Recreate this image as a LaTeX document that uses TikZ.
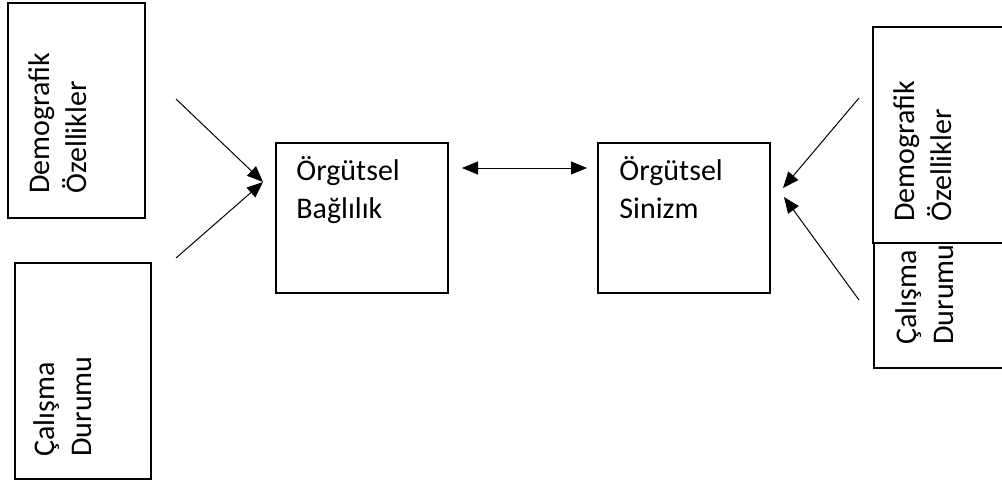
\documentclass[tikz,border=0pt]{standalone}
\usepackage{fontspec}
\setmainfont{Carlito}
\usetikzlibrary{arrows.meta,positioning}

\begin{document}
\begin{tikzpicture}[x=0.5pt,y=-0.5pt]

        % stiller
        \tikzstyle{kutu} = [rectangle, draw=black, line width=0.65pt, inner sep=0pt]
        \tikzstyle{yazi} = [inner sep=0pt, align=left, font=\fontsize{15}{18.85}\selectfont]
        \tikzstyle{dikyazi} = [yazi, rotate=90, anchor=north west]
        \tikzstyle{ok} = [line width=0.5pt, -{Triangle[length=8pt,width=6.5pt]}]
        \tikzstyle{ciftok} = [line width=0.5pt, {Triangle[length=8pt,width=6.5pt]}-{Triangle[length=8pt,width=6.5pt]}]

        \useasboundingbox (0,0) rectangle (1002,482);
        \clip (0,0) rectangle (1002,482);

        % kutular
        \node (demsol) [kutu, minimum width=68.5pt, minimum height=107.5pt] at (76.5,110.5) {};
        \node (calsol) [kutu, minimum width=68pt, minimum height=108pt] at (83,371) {};
        \node (baglilik) [kutu, minimum width=86pt, minimum height=75pt] at (362,218) {};
        \node (sinizm) [kutu, minimum width=86pt, minimum height=75pt] at (684,218) {};
        \node (demsag) [kutu, minimum width=70pt, minimum height=108pt] at (943,135) {};
        \node (calsag) [kutu, minimum width=70pt, minimum height=62.5pt] at (944,305.5) {};

        % yazilar
        \node (tdemsol) [dikyazi] at (28,194) {Demografik\\Özellikler};
        \node (tcalsol) [dikyazi] at (33,457) {Çalışma\\Durumu};
        \node (tbaglilik) [yazi, anchor=north west] at (296,156) {Örgütsel\\Bağlılık};
        \node (tsinizm) [yazi, anchor=north west] at (619,156) {Örgütsel\\Sinizm};
        \node (tdemsag) [dikyazi] at (893,222) {Demografik\\Özellikler};
        \node (tcalsag) [dikyazi] at (895,345) {Çalışma\\Durumu};

        % uc noktalar
        \coordinate (sol1) at (176,99);
        \coordinate (sol2) at (176,258);
        \coordinate (solhedef) at (263,182);
        \coordinate (orta1) at (462,168);
        \coordinate (orta2) at (587,168);
        \coordinate (sag1) at (859,98);
        \coordinate (sag2) at (859,300);
        \coordinate (saghedef1) at (783,188);
        \coordinate (saghedef2) at (784,197);

        % baglantilar
        \draw [ok] (sol1) -- (solhedef);
        \draw [ok] (sol2) -- (solhedef);
        \draw [ciftok] (orta1) -- (orta2);
        \draw [ok] (sag1) -- (saghedef1);
        \draw [ok] (sag2) -- (saghedef2);

\end{tikzpicture}
\end{document}
